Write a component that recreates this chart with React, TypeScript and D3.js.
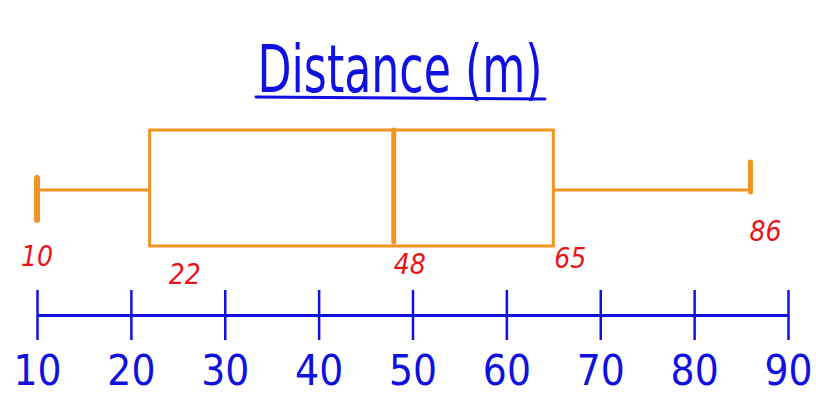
import React, { useRef, useEffect } from 'react';
import * as d3 from 'd3';

// five-number summary
const summaryKeys = ['min', 'q1', 'median', 'q3', 'max'];
const summaryValues = [10, 22, 48, 65, 86];
const axisTicks = [10, 20, 30, 40, 50, 60, 70, 80, 90];
const title = 'Distance (m)';

const BLUE = '#1010e0';
const ORANGE = '#f39323';
const RED = '#e8141a';
const FONT = '"Liberation Sans Narrow", "DejaVu Sans Condensed", "Liberation Sans", sans-serif';

const App = () => {
  const ref = useRef<SVGSVGElement>(null);

  useEffect(() => {
    const svg = d3.select(ref.current);
    svg.selectAll('*').remove();

    const width = 816;
    const height = 396;
    const s = Object.fromEntries(summaryKeys.map((k, i) => [k, summaryValues[i]]));

    const x = d3.scaleLinear().domain([10, 90]).range([37, 788]);

    const boxTop = 130;
    const boxBottom = 246;
    const mid = (boxTop + boxBottom) / 2 + 2;

    svg.attr('width', width).attr('height', height);

    // title
    svg.append('text')
      .attr('x', 400)
      .attr('y', 92)
      .attr('text-anchor', 'middle')
      .attr('font-family', FONT)
      .attr('font-size', 66)
      .attr('fill', BLUE)
      .attr('textLength', 285)
      .attr('lengthAdjust', 'spacingAndGlyphs')
      .text(title);

    svg.append('line')
      .attr('x1', 256).attr('x2', 545)
      .attr('y1', 97).attr('y2', 99)
      .attr('stroke', BLUE)
      .attr('stroke-width', 3)
      .attr('stroke-linecap', 'round');

    // box plot
    const g = svg.append('g')
      .attr('stroke', ORANGE)
      .attr('fill', 'none')
      .attr('stroke-linecap', 'round');

    g.append('line')
      .attr('x1', x(s.min)).attr('x2', x(s.q1))
      .attr('y1', mid).attr('y2', mid)
      .attr('stroke-width', 3);
    g.append('line')
      .attr('x1', x(s.q3)).attr('x2', x(s.max))
      .attr('y1', mid).attr('y2', mid)
      .attr('stroke-width', 3);

    g.append('rect')
      .attr('x', x(s.q1))
      .attr('y', boxTop)
      .attr('width', x(s.q3) - x(s.q1))
      .attr('height', boxBottom - boxTop)
      .attr('stroke-width', 3);

    g.append('line')
      .attr('x1', x(s.median)).attr('x2', x(s.median))
      .attr('y1', boxTop).attr('y2', boxBottom - 4)
      .attr('stroke-width', 5);

    g.append('line')
      .attr('x1', x(s.min)).attr('x2', x(s.min))
      .attr('y1', mid - 12).attr('y2', mid + 30)
      .attr('stroke-width', 6);
    g.append('line')
      .attr('x1', x(s.max)).attr('x2', x(s.max))
      .attr('y1', mid - 28).attr('y2', mid + 2)
      .attr('stroke-width', 5);

    // value labels
    const labelDy = [266, 284, 274, 268, 241];
    const labelDx = [0, 35, 16, 17, 15];
    svg.append('g')
      .selectAll('text')
      .data(summaryValues)
      .enter()
      .append('text')
      .attr('x', (d, i) => x(d) + labelDx[i])
      .attr('y', (d, i) => labelDy[i])
      .attr('text-anchor', 'middle')
      .attr('font-family', FONT)
      .attr('font-style', 'italic')
      .attr('font-size', 28)
      .attr('fill', RED)
      .text(d => d);

    // axis
    const axis = svg.append('g')
      .attr('transform', 'translate(0,315)')
      .call(d3.axisBottom(x).tickValues(axisTicks).tickSize(0));

    axis.select('.domain')
      .attr('stroke', BLUE)
      .attr('stroke-width', 3);

    axis.selectAll('.tick line')
      .attr('y1', -25)
      .attr('y2', 25)
      .attr('stroke', BLUE)
      .attr('stroke-width', 2.5);

    axis.selectAll('.tick text')
      .attr('fill', BLUE)
      .attr('font-family', FONT)
      .attr('font-size', 42)
      .attr('y', 0)
      .attr('dy', 70);

  }, []);

  return <svg ref={ref} style={{ position: 'absolute', left: 0, top: 0, display: 'block' }}></svg>;
};

export default App;
